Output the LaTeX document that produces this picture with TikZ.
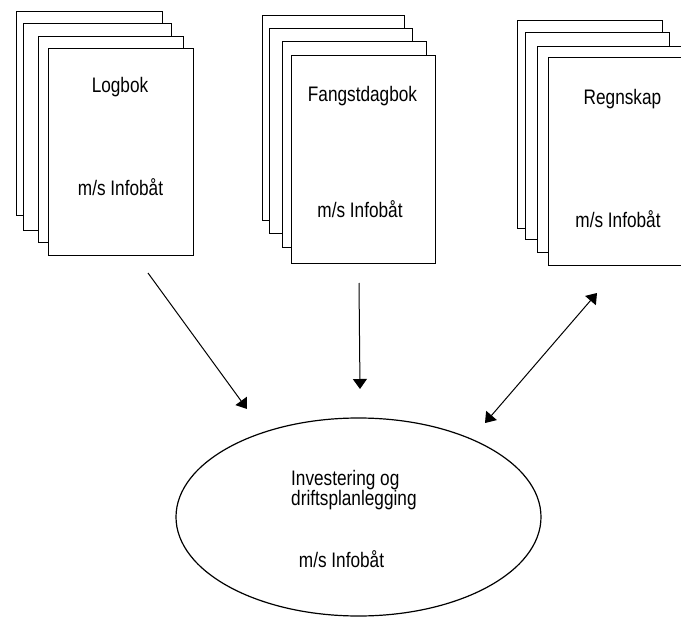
\documentclass[tikz,border=0pt]{standalone}
\usepackage{fontspec}
\setmainfont{Liberation Sans}[FakeStretch=0.82]
\usetikzlibrary{arrows.meta,shapes.geometric}
\tikzset{
  sheet/.style={draw, fill=white, line width=1.3pt, inner sep=0pt, anchor=north west},
  lbl/.style={font=\fontsize{21}{21}\selectfont, inner sep=0pt, anchor=base},
  arr/.style={line width=1pt, -{Triangle[length=10pt,width=14pt]}},
  darr/.style={line width=1pt, {Triangle[length=10pt,width=14pt]}-{Triangle[length=10pt,width=14pt]}},
  oval/.style={draw, ellipse, line width=1.2pt, inner sep=0pt},
}
\begin{document}
\begin{tikzpicture}[x=1pt,y=-1pt]
\clip (0,0) rectangle (681,618);
\fill[white] (0,0) rectangle (681,618);
% stack 1
\node[sheet, minimum width=146pt, minimum height=204pt] (s1a) at (16,11) {};
\node[sheet, minimum width=148pt, minimum height=207pt] (s1b) at (23,23) {};
\node[sheet, minimum width=145pt, minimum height=206pt] (s1c) at (38,36) {};
\node[sheet, minimum width=145pt, minimum height=207pt] (s1d) at (48,48) {};
\node[lbl] (t1a) at (120,93) {Logbok};
\node[lbl] (t1b) at (120.5,195) {m/s Infobåt};
% stack 2
\node[sheet, minimum width=142pt, minimum height=205pt] (s2a) at (262,15) {};
\node[sheet, minimum width=143pt, minimum height=205pt] (s2b) at (269,28) {};
\node[sheet, minimum width=144pt, minimum height=206pt] (s2c) at (282,41) {};
\node[sheet, minimum width=144pt, minimum height=208pt] (s2d) at (291,55) {};
\node[lbl] (t2a) at (362.5,102) {Fangstdagbok};
\node[lbl] (t2b) at (360,217) {m/s Infobåt};
% stack 3
\node[sheet, minimum width=145pt, minimum height=208pt] (s3a) at (517,20) {};
\node[sheet, minimum width=144pt, minimum height=207pt] (s3b) at (525,32) {};
\node[sheet, minimum width=146pt, minimum height=206pt] (s3c) at (537,46) {};
\node[sheet, minimum width=145pt, minimum height=208pt] (s3d) at (548,57) {};
\node[lbl] (t3a) at (622.5,105) {Regnskap};
\node[lbl] (t3b) at (618,227) {m/s Infobåt};
% ellipse
\node[oval, minimum width=365pt, minimum height=198pt] (plan) at (358.5,517) {};
\node[lbl, anchor=base west] (e1) at (291,485) {Investering og};
\node[lbl, anchor=base west] (e2) at (291,505) {driftsplanlegging};
\node[lbl] (e3) at (341.5,567) {m/s Infobåt};
% arrows
\coordinate (a1s) at (148,273);
\coordinate (a1e) at (247,409);
\coordinate (a2s) at (359,283);
\coordinate (a2e) at (360,389);
\coordinate (a3s) at (597,293);
\coordinate (a3e) at (485,423);
\draw[arr] (a1s) -- (a1e);
\draw[arr] (a2s) -- (a2e);
\draw[darr] (a3s) -- (a3e);
\end{tikzpicture}
\end{document}
